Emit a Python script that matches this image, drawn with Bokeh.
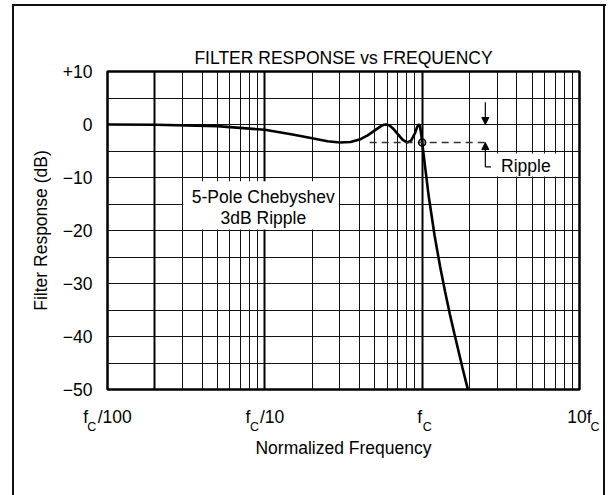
from bokeh.plotting import figure
from bokeh.models import (FixedTicker, LogAxis, Arrow, NormalHead,
                          ColumnDataSource, Range1d)
from bokeh.core.properties import value
from bokeh.embed import file_html
from bokeh.resources import INLINE

# ---------------- data ----------------
freq = [0.01, 0.02, 0.05, 0.1, 0.15, 0.2, 0.25, 0.3, 0.35, 0.4,
        0.45, 0.5, 0.55, 0.57, 0.59, 0.62, 0.65, 0.7, 0.75, 0.8,
        0.85, 0.9, 0.93, 0.95, 0.96, 0.97, 0.99, 1.0, 1.05, 1.1,
        1.2, 1.3, 1.4, 1.5, 1.6, 1.7, 1.8, 1.9, 2.0]
response_db = [0.0, -0.05, -0.3, -1.0, -1.9, -2.6, -3.15, -3.4, -3.3, -2.85,
               -2.05, -1.1, -0.25, -0.05, 0.0, -0.2, -0.7, -1.8, -2.85, -3.4,
               -3.05, -1.65, -0.45, 0.0, -0.1, -0.5, -2.2, -3.4, -8.6, -13.5,
               -21.0, -26.8, -31.6, -35.8, -39.4, -42.7, -45.8, -48.6, -51.2]

ripple_level = -3.4
ripple_start_freq = 0.464
ripple_end_freq = 2.55
corner_freq = 1.0

y_ticks = [-50, -40, -30, -20, -10, 0, 10]
y_tick_labels = ["\u221250", "\u221240", "\u221230", "\u221220", "\u221210", "0", "+10"]

x_ticks = [0.01, 0.1, 1, 10]
NB = "\u00a0"
# main part of each x tick label; the subscript "C" sits in the gap
x_tick_labels = ["f" + NB * 2 + "/100", "f" + NB * 2 + "/10", "f" + NB, "10f"]
# subscript "C" of each label, padded so it lands next to its "f"
x_tick_subscripts = ["C" + NB * 9, "C" + NB * 6, NB * 3 + "C", NB * 9 + "C"]

title_text = "FILTER RESPONSE vs FREQUENCY"
x_title = "Normalized Frequency"
y_title = "Filter Response (dB)"
note_lines = ["5-Pole Chebyshev", "3dB Ripple"]
ripple_text = "Ripple"

# ---------------- styling / layout ----------------
FONT = "Liberation Sans"
FS = 17.5
SUB_FS = 12.5

p = figure(width=616, height=495, x_axis_type="log",
           x_range=Range1d(0.01, 10), y_range=Range1d(-50, 10),
           output_backend="svg", toolbar_location=None,
           min_border_left=107, min_border_right=37,
           min_border_top=71, min_border_bottom=106)
p.background_fill_color = "white"
p.border_fill_alpha = 0
p.outline_line_color = "black"
p.outline_line_width = 2.5
p.outline_line_alpha = 1.0
# outer page frame (three sides, open at the bottom)
p.styles = {
    "background-color": "white",
    "background-image": "linear-gradient(#111, #111), linear-gradient(#111, #111), linear-gradient(#111, #111)",
    "background-size": "2.2px 520px, 594px 2.2px, 2.2px 520px",
    "background-position": "11.6px 4px, 11.6px 4px, 603.4px 4px",
    "background-repeat": "no-repeat",
}

# title
p.title.text = title_text
p.title.align = "center"
p.title.text_font = FONT
p.title.text_font_size = f"{FS}px"
p.title.text_font_style = "normal"
p.title.text_color = "black"
p.title.standoff = 7

# grids
x_major_grid = [0.01, 0.02, 0.1, 1, 10]
x_minor_grid = [k * d for d in (0.01, 0.1, 1) for k in range(2, 10)]
p.xgrid.ticker = FixedTicker(ticks=x_major_grid, minor_ticks=x_minor_grid)
p.xgrid.grid_line_color = "black"
p.xgrid.grid_line_width = 2
p.xgrid.minor_grid_line_color = "#111111"
p.xgrid.minor_grid_line_width = 1
p.ygrid.ticker = FixedTicker(ticks=list(range(-50, 11, 5)))
p.ygrid.grid_line_color = "#111111"
p.ygrid.grid_line_width = 1

# y axis
yax = p.yaxis[0]
yax.ticker = FixedTicker(ticks=y_ticks)
yax.major_label_overrides = {t: s for t, s in zip(y_ticks, y_tick_labels)}
yax.axis_line_color = None
yax.major_tick_line_color = None
yax.minor_tick_line_color = None
yax.major_tick_out = 0
yax.major_label_standoff = 15
yax.major_label_text_font = FONT
yax.major_label_text_font_size = f"{FS}px"
yax.major_label_text_color = "black"
yax.axis_label = y_title
yax.axis_label_text_font = FONT
yax.axis_label_text_font_size = f"{FS}px"
yax.axis_label_text_font_style = "normal"
yax.axis_label_text_color = "black"
yax.axis_label_standoff = 9

# x axis: main label text
xax = p.xaxis[0]
xax.ticker = FixedTicker(ticks=x_ticks)
xax.major_label_overrides = {t: s for t, s in zip(x_ticks, x_tick_labels)}
xax.axis_line_color = None
xax.major_tick_line_color = None
xax.minor_tick_line_color = None
xax.major_tick_out = 0
xax.major_tick_in = 0
xax.major_label_standoff = 17
xax.major_label_text_font = FONT
xax.major_label_text_font_size = f"{FS}px"
xax.major_label_text_color = "black"

# second x axis: subscript "C" of each label, plus the axis title
xsub = LogAxis(ticker=FixedTicker(ticks=x_ticks))
xsub.major_label_overrides = {t: s for t, s in zip(x_ticks, x_tick_subscripts)}
xsub.axis_line_color = None
xsub.major_tick_line_color = None
xsub.minor_tick_line_color = None
xsub.major_tick_out = 0
xsub.major_tick_in = 0
xsub.major_label_standoff = -10
xsub.major_label_text_font = FONT
xsub.major_label_text_font_size = f"{SUB_FS}px"
xsub.major_label_text_color = "black"
xsub.axis_label = x_title
xsub.axis_label_text_font = FONT
xsub.axis_label_text_font_size = f"{FS}px"
xsub.axis_label_text_font_style = "normal"
xsub.axis_label_text_color = "black"
xsub.axis_label_standoff = 1
p.add_layout(xsub, "below")

# white boxes behind notes
p.quad(left=[0.0303], right=[0.295], top=[-10.7], bottom=[-19.8],
       fill_color="white", line_color=None)
p.quad(left=[2.91], right=[7.14], top=[-5.45], bottom=[-9.8],
       fill_color="white", line_color=None)

# curve
src = ColumnDataSource(dict(f=freq, db=response_db))
p.line("f", "db", source=src, line_color="black", line_width=2.6)

# ripple marker line and circle
p.line([ripple_start_freq, ripple_end_freq], [ripple_level, ripple_level],
       line_color="#333333", line_width=1.5, line_dash="7 5")
p.scatter([corner_freq], [ripple_level], marker="circle", size=7,
          fill_color=None, line_color="black", line_width=1.5)

# ripple arrows
ax_f = 2.52
p.add_layout(Arrow(end=NormalHead(size=7, fill_color="black", line_color="black"),
                   x_start=ax_f, y_start=4.2, x_end=ax_f, y_end=0,
                   line_color="black", line_width=1.2))
p.add_layout(Arrow(end=NormalHead(size=7, fill_color="black", line_color="black"),
                   x_start=ax_f, y_start=-8.0, x_end=ax_f, y_end=ripple_level,
                   line_color="black", line_width=1.2))
p.line([ax_f, 2.74], [-8.0, -8.0], line_color="black", line_width=1.2)

# texts
p.text(x=[3.17], y=[-7.9], text=[ripple_text], text_font=value(FONT),
       text_font_size=f"{FS}px", text_align="left", text_baseline="alphabetic",
       text_color="black")
p.text(x=[0.0978, 0.0978], y=[-13.6, -17.7], text=note_lines,
       text_font=value(FONT), text_font_size=f"{FS}px", text_align="center",
       text_baseline="alphabetic", text_color="black")

open("out.html", "w").write(file_html(p, INLINE))
